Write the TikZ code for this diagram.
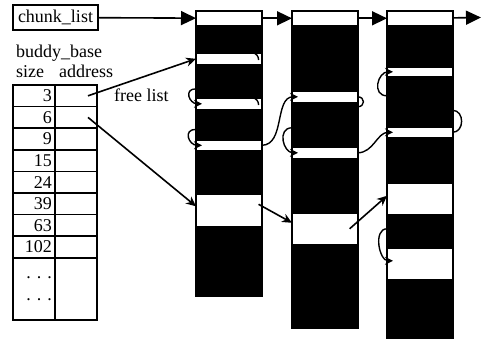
\documentclass[tikz,border=0pt]{standalone}
\usepackage{fontspec}
\setmainfont{Liberation Serif}
\usetikzlibrary{arrows.meta}
\tikzset{
  every picture/.style={line width=1.6pt},
  box/.style={draw, minimum width=85pt, minimum height=25pt, inner sep=2pt},
  column/.style={fill=black, anchor=north west, minimum width=68pt, inner sep=0pt},
  slot/.style={fill=white, anchor=north, minimum width=64pt, inner sep=0pt},
  cell/.style={draw, minimum width=42pt, minimum height=21.6pt, inner sep=0pt},
  num/.style={cell, text width=36pt, align=right, text height=12pt, text depth=0pt},
  link/.style={-{Triangle[length=15pt, width=14pt]}},
  ptr/.style={-{Stealth[length=10pt, width=9pt]}},
  back/.style={-{Stealth[length=8pt, width=8pt]}, line width=1.4pt},
  tail/.style={line width=1.4pt},
}

\begin{document}
\begin{tikzpicture}[x=1pt, y=1pt,
    every node/.append style={font=\fontsize{18}{22}\selectfont},
  ]
  \useasboundingbox (0,0) rectangle (482,343);

  % chunk list and the chunks
  \node[box] (chunk) at (55.5,325.5) {chunk\_list};
  \node[column, minimum height=287pt] (col1) at (194,334) {};
  \node[column, minimum height=319pt] (col2) at (290,334) {};
  \node[column, minimum height=329pt] (col3) at (385,334) {};
  \foreach \cn/\sn/\dy/\hh in {1/1/2/13, 1/2/44/10, 1/3/89/10, 1/4/131/9, 1/5/185/31,
      2/1/2/13, 2/2/82/10, 2/3/138/10, 2/4/204/30,
      3/1/2/13, 3/2/58/8, 3/3/118/9, 3/4/174/30, 3/5/239/30}
    \node[slot, minimum height=\hh pt] (c\cn s\sn) at ([yshift=-\dy pt]col\cn.north) {};
  \coordinate (out) at (481,325.5);
  \foreach \a/\b in {chunk/c1s1, c1s1/c2s1, c2s1/c3s1, c3s1/out}
    \draw[link] (\a) -- (\b);

  % buddy_base table
  \node[anchor=base west] (bb) at (12,285) {buddy\_base};
  \node[anchor=base west] (sz) at (12,265) {size};
  \node[anchor=base west] (ad) at (55,265) {address};
  \foreach \n [count=\i] in {3,6,9,15,24,39,63,102} {
    \node[num] (s\i) at (34,268.8-21.6*\i) {\n};
    \node[cell] (a\i) at (76,268.8-21.6*\i) {};
  }
  \node[cell, minimum height=62pt, text width=36pt, align=right] (s9) at (34,54)
    {.\hspace{6pt}.\hspace{6pt}.\\.\hspace{6pt}.\hspace{6pt}.};
  \node[cell, minimum height=62pt] (a9) at (76,54) {};
  \node[anchor=base west] (fl) at (110,241) {free list};

  \draw[ptr] ([xshift=12pt]a1.center) -- (c1s2.west);
  \draw[ptr] ([xshift=12pt]a2.center) -- ([yshift=4pt]c1s5.west);

  % small blocks
  \draw[back] ([yshift=15pt]c1s3.west) to[out=180, in=180, looseness=2] ([xshift=6pt]c1s3.west);
  \draw[back] ([yshift=16pt]c1s4.west) to[out=180, in=180, looseness=2] ([xshift=6pt]c1s4.west);
  \draw[back] (c1s4.east) to[out=0, in=180] ([xshift=6pt]c2s2.west);
  \draw[back] ([yshift=25pt]c2s3.west) to[out=180, in=180, looseness=1.5] ([xshift=6pt]c2s3.west);
  \draw[back] (c2s3.east) to[out=0, in=180] ([xshift=6pt]c3s3.west);
  \draw[back] ([yshift=-24pt]c3s2.west) to[out=180, in=180, looseness=1.6] ([xshift=6pt]c3s2.west);
  \draw[tail] ([yshift=22pt]c3s3.east) to[out=0, in=0, looseness=1.4] (c3s3.east);
  \draw[tail] (c2s2.east) to[out=0, in=0, looseness=2] ([yshift=-10pt]c2s2.east);
  \foreach \b in {c1s2, c1s3}
    \draw[tail] ([xshift=-9pt]\b.north east) to[out=0, in=90] ([xshift=-3pt, yshift=-7pt]\b.north east);

  % large blocks
  \draw[ptr] ([xshift=-3pt, yshift=6pt]c1s5.east) -- ([yshift=6pt]c2s4.west);
  \draw[ptr] ([xshift=-8pt]c2s4.east) -- ([yshift=3pt]c3s4.west);
  \draw[back] ([yshift=35pt]c3s5.west) to[out=180, in=180, looseness=1.1] ([xshift=6pt, yshift=3pt]c3s5.west);
\end{tikzpicture}
\end{document}
